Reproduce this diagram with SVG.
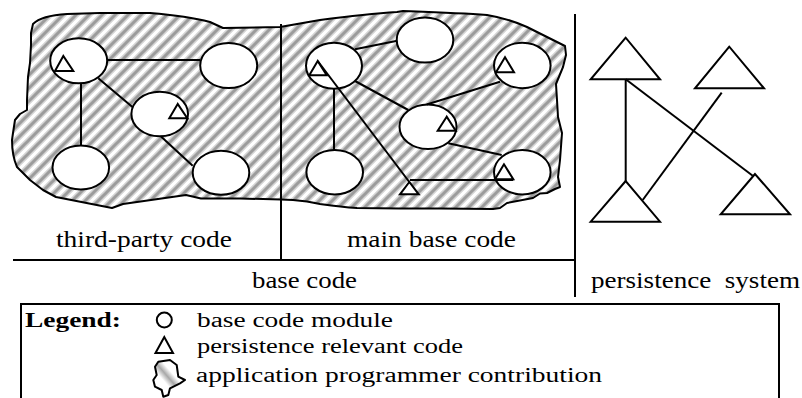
<svg xmlns="http://www.w3.org/2000/svg" width="802" height="398" viewBox="0 0 802 398">
<style>
.o{fill:none;stroke:#000;stroke-width:2;stroke-linejoin:round}
.m{fill:#fff;stroke:#000;stroke-width:2}
.t{fill:#fff;stroke:#000;stroke-width:2;stroke-linejoin:miter}
.c{stroke:#000;stroke-width:2;fill:none}
text{font-family:"Liberation Serif","Times New Roman",serif;fill:#000}
.lbl{font-size:22.5px}
.lg{font-size:20px}
</style>
<defs>
<pattern id="hatch" patternUnits="userSpaceOnUse" width="13" height="13">
<rect width="13" height="13" fill="#fff"/>
<path d="M-6.5,6.5 L6.5,-6.5 M0,13 L13,0 M6.5,19.5 L19.5,6.5" stroke="#d4d4d4" stroke-width="6"/>
<path d="M-6.5,6.5 L6.5,-6.5 M0,13 L13,0 M6.5,19.5 L19.5,6.5" stroke="#9c9c9c" stroke-width="3"/>
</pattern>
<linearGradient id="lgb" x1="0" y1="1" x2="1" y2="0">
<stop offset="0" stop-color="#fff"/>
<stop offset="0.38" stop-color="#fff"/>
<stop offset="0.5" stop-color="#a8a8a8"/>
<stop offset="0.62" stop-color="#fff"/>
<stop offset="1" stop-color="#fff"/>
</linearGradient>
</defs>

<g id="contribution">
<path class="o" style="fill:url(#hatch)" d="M33,24 C38,19 50,15 67,14 L100,13 L150,13 C175,15 195,18 210,22 L223,28 L280,27 L320,20 C350,16 380,13 397,12 L403,11 C430,12 460,13 487,15 C505,18 518,23 527,27 L553,40 L565,46 L566,55 L563,67 L556,84 L557,100 L558,117 L562,133 L560,160 L558,177 L560,187 L555,189 L547,193 L540,193.5 L533,198 L507,203 L500,208 L493,209 L440,208.5 L400,208.5 L357,208 C340,207 327,205 320,204 L307,201.5 L293,200 L281,199.5 L240,198.5 L201,198.5 L186,195 L123,204 L112,208 L56,197 L43,190 L30,180 L17,167 C13,158 12,150 12,140 L13,133 L15,120 L20,114 L27,110 L27,100 L28,77 L30,63 L31,45 L31,33 Z"/>
</g>

<g id="frame">
<line class="c" x1="281" y1="24" x2="281" y2="260"/>
<line class="c" x1="13" y1="260" x2="575" y2="260"/>
<line class="c" x1="575" y1="14" x2="575" y2="297"/>
</g>

<g id="modules">
<g id="m1"><ellipse class="m" cx="78.7" cy="60.8" rx="28.5" ry="22.5"/><polygon class="t" points="63.3,56 55,71 73.3,71"/></g>
<g id="m2"><ellipse class="m" cx="228.7" cy="65.5" rx="28.5" ry="22.5"/></g>
<g id="m3"><ellipse class="m" cx="159.7" cy="114" rx="28.3" ry="22.3"/><polygon class="t" points="177.7,104 169.3,118.3 187.3,118.3"/></g>
<g id="m4"><ellipse class="m" cx="80.8" cy="167.5" rx="28.3" ry="22"/></g>
<g id="m5"><ellipse class="m" cx="221" cy="172.8" rx="28.3" ry="22"/></g>
<g id="m6"><ellipse class="m" cx="425" cy="40" rx="28.3" ry="22.5"/></g>
<g id="m7"><ellipse class="m" cx="334" cy="65.8" rx="28" ry="23"/><polygon class="t" points="317.7,61 309.3,75.3 326.7,75.3"/></g>
<g id="m8"><ellipse class="m" cx="522.3" cy="65.5" rx="28.3" ry="22.7"/><polygon class="t" points="505,57.3 496,72.3 514,72.3"/></g>
<g id="m9"><ellipse class="m" cx="428" cy="126.7" rx="28.5" ry="22.3"/><polygon class="t" points="446.7,116.7 437.7,130.7 455.7,130.7"/></g>
<g id="m10"><ellipse class="m" cx="334.7" cy="172.2" rx="28.3" ry="22.2"/></g>
<g id="m11"><ellipse class="m" cx="522.3" cy="172.2" rx="28.3" ry="22.2"/><polygon class="t" points="504,164.3 495,179.3 513.3,179.3"/></g>
<g id="p0"><polygon class="t" points="409.3,182 400,194.3 418.7,194.3"/></g>
</g>

<g id="persistence">
<g id="p1"><polygon class="t" points="625.7,37.7 590.7,79.3 660,79.3"/></g>
<g id="p2"><polygon class="t" points="729.3,46.7 695,88.3 764,88.3"/></g>
<g id="p3"><polygon class="t" points="625.7,181 590.7,221.7 660,221.7"/></g>
<g id="p4"><polygon class="t" points="755,174 720.7,214.3 790,214.3"/></g>
</g>

<g id="connectors">
<line class="c" x1="107" y1="60" x2="200" y2="60"/>
<line class="c" x1="81" y1="83" x2="81" y2="146"/>
<line class="c" x1="98.3" y1="78.3" x2="132.7" y2="107.3"/>
<line class="c" x1="161" y1="136.5" x2="192.7" y2="165.7"/>
<line class="c" x1="355" y1="49.3" x2="397.3" y2="40.7"/>
<line class="c" x1="355" y1="81" x2="408.3" y2="110"/>
<line class="c" x1="334" y1="88.5" x2="334" y2="150"/>
<line class="c" x1="317.7" y1="61" x2="409.3" y2="182"/>
<line class="c" x1="426.7" y1="104.5" x2="500" y2="81.7"/>
<line class="c" x1="448.3" y1="143.3" x2="501.7" y2="155"/>
<line class="c" x1="410" y1="180" x2="513.3" y2="180"/>
<line class="c" x1="625.7" y1="79.3" x2="625.7" y2="181"/>
<line class="c" x1="625.7" y1="79.3" x2="752.7" y2="175.7"/>
<line class="c" x1="721.7" y1="92.7" x2="642.7" y2="200"/>
</g>

<g id="labels">
<text class="lbl" x="56" y="247" font-family="Liberation Serif, serif" textLength="176" lengthAdjust="spacingAndGlyphs">third-party code</text>
<text class="lbl" x="347" y="247" font-family="Liberation Serif, serif" textLength="169" lengthAdjust="spacingAndGlyphs">main base code</text>
<text class="lbl" x="252" y="288" font-family="Liberation Serif, serif" textLength="105" lengthAdjust="spacingAndGlyphs">base code</text>
<text class="lbl" x="591" y="288" font-family="Liberation Serif, serif" textLength="209" lengthAdjust="spacingAndGlyphs" xml:space="preserve">persistence  system</text>
</g>

<g id="legend">
<path class="c" d="M21,400 L21,304 L779,304 L779,400"/>
<text class="lg" x="25" y="327" font-weight="bold" textLength="96" lengthAdjust="spacingAndGlyphs">Legend:</text>
<circle cx="164.3" cy="320" r="7.5" fill="#fff" stroke="#000" stroke-width="2"/>
<polygon class="t" points="164.3,337 155.5,353 173,353"/>
<path d="M158.3,361.7 L170,360 L176.7,365 L178.3,376.7 L185,380 L180,383.3 L170,388.3 L168.3,395 L163.3,396.7 L161.7,390 L155,386.7 L153.3,380 L156.7,375 L155,366.7 Z" fill="url(#lgb)" stroke="#000" stroke-width="2" stroke-linejoin="round"/>
<text class="lg" x="197" y="327" textLength="196" lengthAdjust="spacingAndGlyphs">base code module</text>
<text class="lg" x="197" y="353" textLength="266" lengthAdjust="spacingAndGlyphs">persistence relevant code</text>
<text class="lg" x="196" y="382" textLength="406" lengthAdjust="spacingAndGlyphs">application programmer contribution</text>
</g>
</svg>
